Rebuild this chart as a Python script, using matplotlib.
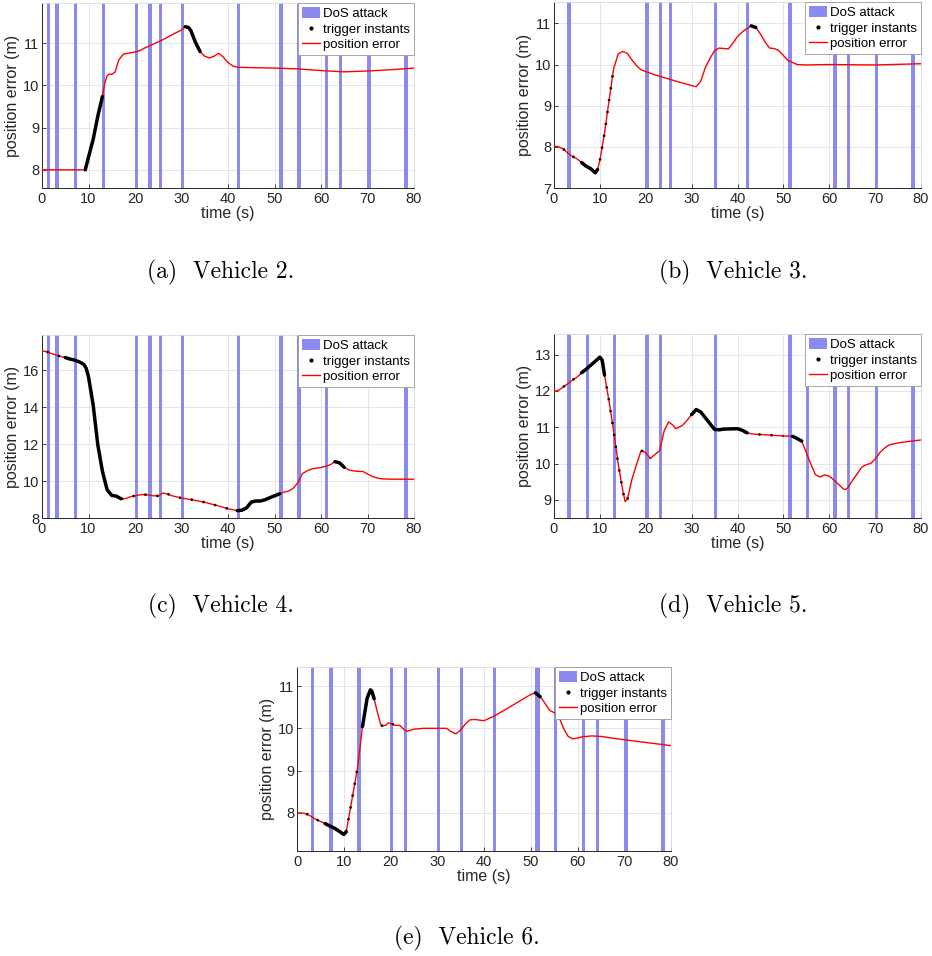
import numpy as np
import matplotlib
matplotlib.use("Agg")
import matplotlib.pyplot as plt
from matplotlib.patches import Patch
from matplotlib.lines import Line2D

# ── Data ──
# DoS attack intervals (s)
dos_a = [(1.0, 1.7), (2.9, 3.6), (6.9, 7.6), (12.9, 13.6), (19.9, 20.6), (22.9, 23.6),
         (25.1, 25.8), (29.9, 30.6), (41.9, 42.6), (50.9, 51.9), (54.9, 55.6),
         (60.9, 61.6), (63.9, 64.6), (69.9, 70.7), (77.9, 78.7)]
dos_b = [(2.9, 3.6), (19.9, 20.6), (22.9, 23.6), (25.1, 25.8), (34.9, 35.5), (41.9, 42.6),
         (50.9, 51.9), (60.9, 61.6), (63.9, 64.6), (69.9, 70.7), (77.9, 78.7)]
dos_c = [(1.0, 1.7), (2.9, 3.6), (6.9, 7.6), (19.9, 20.6), (22.9, 23.6), (25.1, 25.8),
         (29.9, 30.6), (41.9, 42.6), (50.9, 51.9), (54.9, 55.6), (60.9, 61.6), (77.9, 78.7)]
dos_d = [(2.9, 3.6), (6.9, 7.6), (12.9, 13.6), (19.9, 20.6), (22.9, 23.6), (34.9, 35.5),
         (50.9, 51.9), (54.9, 55.6), (60.9, 61.6), (63.9, 64.6), (69.9, 70.7), (77.9, 78.7)]
dos_e = [(2.9, 3.6), (6.9, 7.6), (12.9, 13.6), (19.9, 20.6), (22.9, 23.6), (29.9, 30.6),
         (34.9, 35.5), (41.9, 42.6), (50.9, 51.9), (54.9, 55.6), (60.9, 61.6),
         (63.9, 64.6), (69.9, 70.7), (77.9, 78.7)]

# position error, vehicle 2
t_a = [0, 5, 9.3, 10, 11, 12, 13, 13.5, 14, 14.5, 15, 15.7, 16.5, 17.5, 18.5, 20, 21, 22,
       24, 26, 28, 30, 30.8, 31.5, 32, 33, 34, 35, 36, 37, 38, 39, 40, 41, 42, 45, 50,
       55, 60, 65, 70, 75, 80]
e_a = [8.0, 8.0, 8.0, 8.3, 8.72, 9.27, 9.74, 10.05, 10.23, 10.27, 10.26, 10.31, 10.6,
       10.74, 10.76, 10.79, 10.82, 10.88, 10.98, 11.08, 11.2, 11.31, 11.39, 11.37, 11.3,
       11.02, 10.8, 10.69, 10.65, 10.69, 10.76, 10.67, 10.54, 10.46, 10.43, 10.42, 10.41,
       10.39, 10.35, 10.32, 10.34, 10.37, 10.41]
dense_a = [(5.5, 13.0), (30.5, 34.0)]
sparse_a = [(1.5, 5.5)]

# position error, vehicle 3
t_b = [0, 1, 2, 3, 4, 5, 6, 7, 8, 9, 9.5, 10, 11, 12, 13, 14, 15, 16, 17, 18, 19, 20,
       22, 25, 28, 30, 31, 32, 33, 34, 35, 36, 37, 38, 39, 40, 41, 42, 43, 44, 45, 46,
       47, 48, 49, 50, 51, 52, 53, 55, 60, 70, 80]
e_b = [8.02, 8.0, 7.95, 7.85, 7.77, 7.71, 7.62, 7.53, 7.47, 7.37, 7.45, 7.67, 8.32, 9.13,
       9.9, 10.26, 10.32, 10.27, 10.11, 9.97, 9.87, 9.83, 9.75, 9.65, 9.55, 9.49, 9.46,
       9.6, 9.93, 10.15, 10.34, 10.4, 10.39, 10.38, 10.52, 10.68, 10.79, 10.87, 10.94,
       10.9, 10.74, 10.55, 10.4, 10.39, 10.34, 10.22, 10.1, 10.05, 10.0, 9.99, 10.0,
       9.99, 10.02]
dense_b = [(5.5, 9.5), (42.5, 44.5)]
sparse_b = [(1.5, 5.5), (10.0, 13.0)]

# position error, vehicle 4
t_c = [0, 1, 2, 3, 4, 5, 6, 7, 8, 9, 9.5, 10, 11, 12, 13, 14, 15, 16, 17, 18, 19, 20,
       21, 22, 23, 24, 25, 26, 27, 28, 30, 32, 35, 38, 40, 42, 43, 44, 45, 46, 47, 48,
       49, 50, 51, 52, 53, 54, 55, 56, 57, 58, 60, 61, 62, 63, 64, 65, 66, 67, 68, 69,
       70, 71, 72, 73, 75, 80]
e_c = [17.03, 17.0, 16.9, 16.82, 16.74, 16.68, 16.6, 16.54, 16.45, 16.31, 16.1, 15.64,
       14.12, 11.96, 10.52, 9.53, 9.22, 9.18, 9.04, 9.05, 9.15, 9.2, 9.25, 9.27, 9.24,
       9.2, 9.2, 9.35, 9.3, 9.2, 9.08, 9.0, 8.85, 8.65, 8.5, 8.4, 8.42, 8.55, 8.86, 8.92,
       8.92, 8.99, 9.1, 9.2, 9.3, 9.4, 9.45, 9.6, 9.9, 10.4, 10.55, 10.66, 10.73, 10.8,
       10.88, 11.05, 10.98, 10.74, 10.6, 10.55, 10.52, 10.52, 10.38, 10.25, 10.17,
       10.12, 10.1, 10.1]
dense_c = [(5.0, 17.0), (42.0, 51.0), (62.5, 65.0)]
sparse_c = [(0.5, 5.0), (17.0, 42.0), (51.0, 53.0)]

# position error, vehicle 5
t_d = [0, 1, 2, 3, 4, 5, 6, 7, 8, 9, 10, 10.5, 11, 12, 13, 14, 15, 15.5, 16, 16.5, 17,
       18, 19, 20, 21, 22, 23, 24, 25, 26, 26.5, 27, 28, 29, 30, 31, 32, 33, 34, 35, 36,
       37, 40, 41, 42, 43, 45, 50, 52, 53, 54, 55, 56, 57, 58, 59, 60, 61, 62, 63, 63.5,
       64, 65, 66, 67, 68, 69, 70, 71, 72, 73, 75, 78, 80]
e_d = [11.99, 12.02, 12.11, 12.2, 12.3, 12.38, 12.5, 12.6, 12.71, 12.82, 12.93, 12.85,
       12.45, 11.72, 10.9, 9.98, 9.25, 8.95, 9.02, 9.3, 9.57, 9.98, 10.36, 10.3, 10.14,
       10.25, 10.35, 10.9, 11.15, 11.05, 10.96, 10.99, 11.05, 11.19, 11.35, 11.49, 11.42,
       11.26, 11.1, 10.94, 10.93, 10.95, 10.96, 10.92, 10.85, 10.82, 10.8, 10.76, 10.75,
       10.69, 10.62, 10.3, 9.98, 9.69, 9.63, 9.69, 9.65, 9.55, 9.43, 9.31, 9.28, 9.33,
       9.52, 9.7, 9.89, 9.97, 10.0, 10.12, 10.3, 10.42, 10.51, 10.57, 10.62, 10.65]
dense_d = [(6.0, 11.0), (30.0, 42.0), (51.0, 54.5)]
sparse_d = [(1.5, 6.0), (11.0, 16.5), (18.5, 21.0), (42.0, 51.0)]

# position error, vehicle 6
t_e = [0, 1, 2, 3, 4, 5, 6, 7, 8, 9, 10, 10.5, 11, 12, 13, 14, 15, 15.7, 16, 16.5, 17,
       17.5, 18, 19, 19.5, 20, 21, 22, 23, 23.5, 25, 27, 30, 32, 33, 34, 35, 36, 37, 38,
       40, 42, 45, 48, 50, 51, 52, 53, 54, 55, 56, 57, 58, 59, 60, 61, 63, 65, 68, 70,
       75, 78, 80]
e_e = [8.0, 8.0, 7.98, 7.92, 7.85, 7.8, 7.75, 7.69, 7.64, 7.57, 7.49, 7.55, 7.84, 8.47,
       9.1, 10.04, 10.71, 10.91, 10.88, 10.7, 10.47, 10.25, 10.06, 10.07, 10.13, 10.12,
       10.07, 10.07, 9.96, 9.93, 9.98, 10.0, 10.0, 10.0, 9.92, 9.87, 9.96, 10.1, 10.2,
       10.21, 10.18, 10.28, 10.47, 10.67, 10.8, 10.84, 10.75, 10.6, 10.43, 10.37, 10.28,
       10.0, 9.81, 9.75, 9.77, 9.8, 9.82, 9.81, 9.76, 9.73, 9.66, 9.62, 9.59]
dense_e = [(6.0, 10.5), (13.5, 16.5), (51.0, 52.5)]
sparse_e = [(2.0, 6.0), (10.5, 13.5), (18.0, 21.0), (29.5, 30.5), (32.5, 33.5)]

captions = ["(a)  Vehicle 2.", "(b)  Vehicle 3.", "(c)  Vehicle 4.",
            "(d)  Vehicle 5.", "(e)  Vehicle 6."]
ylims = [(7.57, 11.95), (7.0, 11.52), (8.0, 17.9), (8.5, 13.57), (7.1, 11.45)]
yticks = [[8, 9, 10, 11], [7, 8, 9, 10, 11], [8, 10, 12, 14, 16],
          [9, 10, 11, 12, 13], [8, 9, 10, 11]]

# ── Style ──
BAND = "#8a8aef"
TXT = "#262626"
plt.rcParams["font.family"] = ["Liberation Sans", "DejaVu Sans"]

fig = plt.figure(figsize=(9.32, 9.56), dpi=100)
W, H = 932, 956
# axes boxes in pixels: left, top, right, bottom
boxes = [(42, 3, 414, 188), (554, 2, 921, 188), (42, 335, 414, 518),
         (554, 334, 921, 518), (297, 667, 671, 851)]
cap_pos = [(221, 272), (733, 272), (221, 606), (733, 606), (467, 938)]

panels = [
    (t_a, e_a, dos_a, dense_a, sparse_a),
    (t_b, e_b, dos_b, dense_b, sparse_b),
    (t_c, e_c, dos_c, dense_c, sparse_c),
    (t_d, e_d, dos_d, dense_d, sparse_d),
    (t_e, e_e, dos_e, dense_e, sparse_e),
]


def in_ranges(t, ranges):
    t = np.asarray(t)
    m = np.zeros(len(t), dtype=bool)
    for lo, hi in ranges:
        m |= (t >= lo) & (t <= hi)
    return m


for k, (t, e, dos, dense, sparse) in enumerate(panels):
    l, tp, r, b = boxes[k]
    ax = fig.add_axes([l / W, 1 - b / H, (r - l) / W, (b - tp) / H])
    t = np.asarray(t, float)
    e = np.asarray(e, float)

    for s0, s1 in dos:
        ax.axvspan(s0, s1, color=BAND, lw=0, zorder=1)

    ax.plot(t, e, color="red", lw=1.0, zorder=3)

    md = in_ranges(t, dense)
    ax.plot(t, np.where(md, e, np.nan), color="black", lw=2.5, zorder=4,
            solid_capstyle="round")
    ms = in_ranges(t, sparse)
    ax.plot(t, np.where(ms, e, np.nan), color="black", lw=1.8, zorder=4,
            linestyle=(0, (0.8, 4)))

    ax.set_xlim(0, 80)
    ax.set_ylim(*ylims[k])
    ax.set_xticks(range(0, 81, 10))
    ax.set_yticks(yticks[k])
    ax.grid(True, color="#e6e6e6", lw=0.7, zorder=0)
    ax.set_axisbelow(True)
    ax.tick_params(direction="in", length=3, width=0.6, labelsize=10.5,
                   colors=TXT, top=False, right=False, pad=3)
    ax.tick_params(axis="y", pad=2)
    for side in ["left", "bottom"]:
        ax.spines[side].set_color(TXT)
        ax.spines[side].set_linewidth(0.7)
    for side in ["top", "right"]:
        ax.spines[side].set_color("#d8d8d8")
        ax.spines[side].set_linewidth(0.6)
    ax.set_xlabel("time (s)", fontsize=11.5, color=TXT, labelpad=0)
    ax.set_ylabel("position error (m)", fontsize=11.5, color=TXT)
    ax.yaxis.set_label_coords(-22 / (r - l), 0.5)

    handles = [
        Patch(facecolor=BAND, edgecolor="none"),
        Line2D([], [], marker=".", color="black", ls="none", ms=4),
        Line2D([], [], color="red", lw=1.0),
    ]
    leg = ax.legend(handles, ["DoS attack", "trigger instants", "position error"],
                    loc="upper right", fontsize=9.5, frameon=True, fancybox=False,
                    borderaxespad=0.0, handlelength=1.4, handletextpad=0.2,
                    labelspacing=0.2, borderpad=0.3, handleheight=0.9)
    leg.get_frame().set_edgecolor("#9a9a9a")
    leg.get_frame().set_linewidth(0.6)
    leg.get_frame().set_alpha(1)

    cx, cy = cap_pos[k]
    fig.text(cx / W, 1 - cy / H, captions[k], ha="center", va="center",
             fontsize=17, family="cmr10")

fig.savefig("out.png", dpi=100)
